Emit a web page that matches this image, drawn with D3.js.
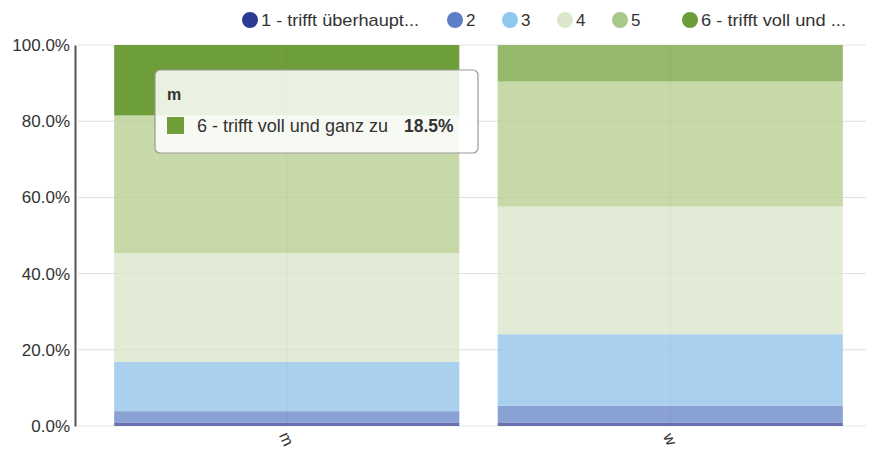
<!DOCTYPE html>
<html><head><meta charset="utf-8">
<script src="https://cdn.jsdelivr.net/npm/d3@7"></script>
<style>body{margin:0;background:#fff;font-family:"Liberation Sans",Arial,sans-serif}</style>
</head><body><svg id="c" width="869" height="450"></svg>
<script>
const categories = ["m", "w"];
const seriesNames = ["1 - trifft überhaupt nicht zu", "2", "3", "4", "5", "6 - trifft voll und ganz zu"];
const legendLabels = ["1 - trifft überhaupt...", "2", "3", "4", "5", "6 - trifft voll und ..."];
const s1 = [0.8, 0.8];
const s2 = [3.1, 4.5];
const s3 = [12.9, 18.8];
const s4 = [28.6, 33.5];
const s5 = [36.1, 32.8];
const s6 = [18.5, 9.6];
const yTicks = [0, 20, 40, 60, 80, 100];

const seriesValues = [s1, s2, s3, s4, s5, s6];
const legendColors = ["#2c3a93", "#5b7fc6", "#8ec8ee", "#dbe7cb", "#a7c98a", "#6a9d38"];
const barColors = ["#6c70b0", "#8aa1d3", "#a9d1ee", "#e2ebd5", "#c8d9a9", "#96b86c"];
const hoverColor = "#6e9e3a";
const hovered = {series: 5, cat: 0};

const svg = d3.select("#c");
const y = d3.scaleLinear().domain([0, 100]).range([426, 45]);
const x = d3.scaleBand().domain(categories).range([95, 862]).padding(0.1).paddingOuter(0.05);

// grid
svg.append("g").selectAll("line").data(yTicks).join("line")
  .attr("x1", 78).attr("x2", 866).attr("y1", d => y(d)).attr("y2", d => y(d))
  .attr("stroke", "#e6e6e6").attr("stroke-width", 1);

// stacked data
const rows = categories.map((c, i) => {
  const o = {cat: c};
  seriesNames.forEach((s, j) => o[s] = seriesValues[j][i]);
  return o;
});
const stack = d3.stack().keys(seriesNames)(rows);

const gBars = svg.append("g");
stack.forEach((layer, si) => {
  gBars.append("g").selectAll("rect").data(layer).join("rect")
    .attr("x", d => x(d.data.cat))
    .attr("width", x.bandwidth())
    .attr("y", d => y(d[1]))
    .attr("height", d => y(d[0]) - y(d[1]))
    .attr("fill", (d, ci) => (si === hovered.series && ci === hovered.cat) ? hoverColor : barColors[si]);
});

// faint grid over bars
svg.append("g").selectAll("line").data(yTicks.slice(1, 5)).join("line")
  .attr("x1", 78).attr("x2", 866).attr("y1", d => y(d)).attr("y2", d => y(d))
  .attr("stroke", "rgba(0,0,0,0.035)");
svg.append("g").selectAll("line").data(categories).join("line")
  .attr("x1", d => x(d) + x.bandwidth() / 2).attr("x2", d => x(d) + x.bandwidth() / 2)
  .attr("y1", 45).attr("y2", 426).attr("stroke", "rgba(0,0,0,0.04)");

// y axis
const yAxis = d3.axisLeft(y).tickValues(yTicks).tickFormat(d => d.toFixed(1) + "%").tickSize(0).tickPadding(5);
const ga = svg.append("g").attr("transform", "translate(75,0)").call(yAxis);
ga.select(".domain").attr("stroke", "#555").attr("stroke-width", 2);
ga.selectAll("text").attr("font-size", 17).attr("fill", "#333").attr("font-family", "Liberation Sans, Arial");

// x labels
svg.append("g").selectAll("text").data(categories).join("text")
  .attr("transform", d => `translate(${x(d) + x.bandwidth() / 2},439) rotate(65)`)
  .attr("text-anchor", "middle").attr("dy", "0.35em")
  .attr("font-size", 16).attr("fill", "#333").text(d => d);

// legend
const legendX = [250, 455, 510, 565, 620, 690];
const lg = svg.append("g").selectAll("g").data(legendLabels).join("g")
  .attr("transform", (d, i) => `translate(${legendX[i]},20)`);
lg.append("circle").attr("r", 8).attr("fill", (d, i) => legendColors[i]);
lg.append("text").attr("x", 11).attr("dy", "0.35em").attr("font-size", 17).attr("fill", "#333")
  .attr("textLength", (d, i) => i === 0 ? 158 : (i === 5 ? 145 : null))
  .attr("lengthAdjust", "spacingAndGlyphs").text(d => d);

// tooltip
const tt = svg.append("g").attr("transform", "translate(155,70)");
tt.append("rect").attr("width", 323).attr("height", 83).attr("rx", 5)
  .attr("fill", "rgba(255,255,255,0.85)").attr("stroke", "#999").attr("stroke-width", 1.2);
tt.append("text").attr("x", 12).attr("y", 30).attr("font-size", 16).attr("font-weight", "bold").attr("fill", "#333").text(categories[hovered.cat]);
tt.append("rect").attr("x", 12).attr("y", 47).attr("width", 17).attr("height", 17).attr("fill", hoverColor);
const t2 = tt.append("text").attr("x", 42).attr("y", 62).attr("font-size", 17.5).attr("fill", "#333");
t2.append("tspan").attr("textLength", 191).attr("lengthAdjust", "spacingAndGlyphs").text("6 - trifft voll und ganz zu");
t2.append("tspan").attr("x", 249).attr("font-weight", "bold")
  .text(seriesValues[hovered.series][hovered.cat].toFixed(1) + "%");
</script></body></html>
